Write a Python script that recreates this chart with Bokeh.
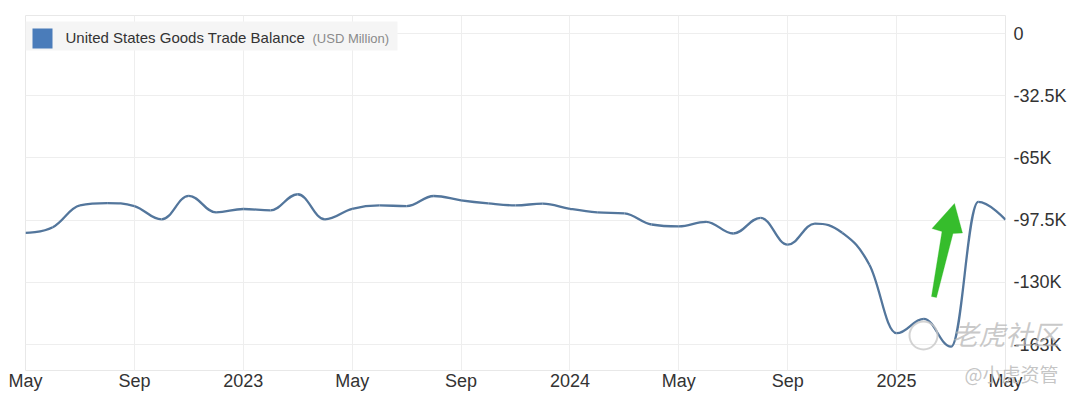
from bokeh.plotting import figure
from bokeh.models import (FixedTicker, Label, BoxAnnotation, PolyAnnotation, ColumnDataSource, Range1d)
from bokeh.core.properties import value
from bokeh.embed import file_html
from bokeh.resources import INLINE

# ---------------- data (USD million) ----------------
months = ["2022-05", "2022-06", "2022-07", "2022-08", "2022-09", "2022-10", "2022-11", "2022-12",
          "2023-01", "2023-02", "2023-03", "2023-04", "2023-05", "2023-06", "2023-07", "2023-08",
          "2023-09", "2023-10", "2023-11", "2023-12", "2024-01", "2024-02", "2024-03", "2024-04",
          "2024-05", "2024-06", "2024-07", "2024-08", "2024-09", "2024-10", "2024-11", "2024-12",
          "2025-01", "2025-02", "2025-03", "2025-04", "2025-05"]
balance = [-104200, -101200, -89800, -88600, -90200, -97100, -84800, -93500,
           -91700, -92400, -84000, -97100, -91600, -89800, -90200, -84900,
           -87200, -88800, -89800, -88900, -91600, -93500, -94000, -99800,
           -100800, -98400, -104500, -96300, -110300, -99300, -104100, -120800,
           -156600, -149100, -163600, -88000, -97300]
x_tick_pos = [0, 4, 8, 12, 16, 20, 24, 28, 32, 36]
x_tick_labels = ["May", "Sep", "2023", "May", "Sep", "2024", "May", "Sep", "2025", "May"]
y_tick_pos = [0, -32500, -65000, -97500, -130000, -162500]
y_tick_labels = ["0", "-32.5K", "-65K", "-97.5K", "-130K", "-163K"]
series_name = "United States Goods Trade Balance"
series_unit = "(USD Million)"
watermark_1 = "老虎社区"
watermark_2 = "@小虎资管"

# ---------------- pixel helpers (canvas px -> data) ----------------
X_LEFT_PX, X_RIGHT_PX = 25.0, 1005.0
Y_ZERO_PX, Y_LAST_PX = 33.0, 344.0
def xd(px):
    return (px - X_LEFT_PX) * 36.0 / (X_RIGHT_PX - X_LEFT_PX)
def yd(py):
    return -(py - Y_ZERO_PX) * 162500.0 / (Y_LAST_PX - Y_ZERO_PX)

# ---------------- spline (Highcharts style) control points ----------------
xs = list(range(len(balance)))
ys = balance
n = len(xs)
right_cx = [None] * n
right_cy = [None] * n
left_cx = [None] * n
left_cy = [None] * n
sm = 1.5
den = sm + 1
for i in range(1, n - 1):
    lx, ly = xs[i - 1], ys[i - 1]
    px, py = xs[i], ys[i]
    nx, ny = xs[i + 1], ys[i + 1]
    lcx = (sm * px + lx) / den
    lcy = (sm * py + ly) / den
    rcx = (sm * px + nx) / den
    rcy = (sm * py + ny) / den
    corr = 0.0
    if rcx != lcx:
        corr = ((rcy - lcy) * (rcx - px)) / (rcx - lcx) + py - rcy
    lcy += corr
    rcy += corr
    if lcy > ly and lcy > py:
        lcy = max(ly, py); rcy = 2 * py - lcy
    elif lcy < ly and lcy < py:
        lcy = min(ly, py); rcy = 2 * py - lcy
    if rcy > ny and rcy > py:
        rcy = max(ny, py); lcy = 2 * py - rcy
    elif rcy < ny and rcy < py:
        rcy = min(ny, py); lcy = 2 * py - rcy
    left_cx[i], left_cy[i], right_cx[i], right_cy[i] = lcx, lcy, rcx, rcy

seg = dict(x0=[], y0=[], x1=[], y1=[], cx0=[], cy0=[], cx1=[], cy1=[])
for i in range(1, n):
    seg["x0"].append(xs[i - 1]); seg["y0"].append(ys[i - 1])
    seg["x1"].append(xs[i]); seg["y1"].append(ys[i])
    seg["cx0"].append(right_cx[i - 1] if right_cx[i - 1] is not None else xs[i - 1])
    seg["cy0"].append(right_cy[i - 1] if right_cy[i - 1] is not None else ys[i - 1])
    seg["cx1"].append(left_cx[i] if left_cx[i] is not None else xs[i])
    seg["cy1"].append(left_cy[i] if left_cy[i] is not None else ys[i])
src = ColumnDataSource(seg)

# ---------------- figure ----------------
p = figure(width=1080, height=398, output_backend="svg", toolbar_location=None,
           x_range=Range1d(0, 36), y_range=Range1d(yd(370), yd(15)),
           y_axis_location="right",
           min_border_left=25, min_border_right=75, min_border_top=15, min_border_bottom=28)
p.background_fill_color = "white"
p.border_fill_color = "white"
p.outline_line_color = "#e8e8e8"

p.bezier(x0="x0", y0="y0", x1="x1", y1="y1", cx0="cx0", cy0="cy0", cx1="cx1", cy1="cy1",
         source=src, line_color="#53769c", line_width=2.3)

# axes
p.xaxis.ticker = FixedTicker(ticks=x_tick_pos)
p.xaxis.major_label_overrides = {t: l for t, l in zip(x_tick_pos, x_tick_labels)}
p.yaxis.ticker = FixedTicker(ticks=y_tick_pos)
p.yaxis.major_label_overrides = {t: l for t, l in zip(y_tick_pos, y_tick_labels)}
for ax in (p.xaxis[0], p.yaxis[0]):
    ax.axis_line_color = None
    ax.major_tick_line_color = None
    ax.minor_tick_line_color = None
    ax.major_tick_out = 0
    ax.major_tick_in = 0
    ax.minor_tick_out = 0
    ax.minor_tick_in = 0
    ax.major_label_text_font = "Liberation Sans"
    ax.major_label_text_font_size = "18px"
    ax.major_label_text_color = "#333333"
p.xaxis.major_label_standoff = 0
p.yaxis.major_label_standoff = 8

p.xgrid.ticker = FixedTicker(ticks=x_tick_pos)
p.ygrid.ticker = FixedTicker(ticks=y_tick_pos)
p.xgrid.grid_line_color = "#eeeeee"
p.ygrid.grid_line_color = "#eeeeee"

# legend (drawn manually)
p.add_layout(BoxAnnotation(left=xd(25), right=xd(397), top=yd(21), bottom=yd(50),
                           fill_color="#f5f5f5", fill_alpha=1, line_color=None))
p.add_layout(BoxAnnotation(left=xd(32), right=xd(52), top=yd(28), bottom=yd(48),
                           fill_color="#4a7cba", fill_alpha=1, line_color=None))
p.add_layout(Label(x=xd(65), y=yd(37), text=series_name, text_font="Liberation Sans",
                   text_font_size="15px", text_color="#333333", text_baseline="middle"))
p.add_layout(Label(x=xd(312), y=yd(38), text=series_unit, text_font="Liberation Sans",
                   text_font_size="13px", text_color="#8a8a8a", text_baseline="middle"))

# green arrow
arrow_px = [(931, 296), (936, 297), (952.5, 233), (962, 232.5), (954, 203), (931.5, 228), (941.5, 231)]
p.add_layout(PolyAnnotation(xs=[xd(a) for a, b in arrow_px], ys=[yd(b) for a, b in arrow_px],
                            fill_color="#36bd2c", fill_alpha=1, line_color="#36bd2c", line_width=1))

# watermark (overlay level so it may extend past the frame)
r1 = p.scatter(x=[xd(923)], y=[yd(335)], marker="circle", size=28, fill_color=None,
               line_color="#c8c8c8", line_width=2, line_alpha=0.8)
r1.level = "overlay"
r2 = p.text(x=[xd(951)], y=[yd(333)], text=[watermark_1], text_font=value("Noto Sans CJK SC"),
            text_font_size="27px", text_font_style="italic", text_color="#b8b8b8",
            text_alpha=0.75, text_baseline="middle")
r2.level = "overlay"
r3 = p.text(x=[xd(964)], y=[yd(373)], text=[watermark_2], text_font=value("Noto Sans CJK SC"),
            text_font_size="19px", text_color="#bbbbbb", text_alpha=0.85,
            text_baseline="middle")
r3.level = "overlay"

open("out.html", "w").write(file_html(p, INLINE))
